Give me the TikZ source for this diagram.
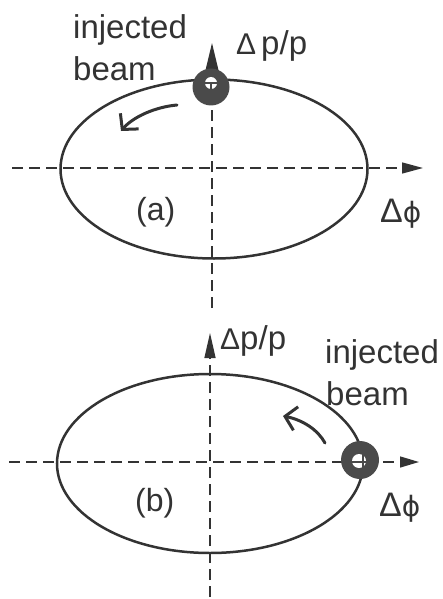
\documentclass[tikz,border=0pt]{standalone}
\usepackage{fontspec}
\setmainfont{Liberation Sans}
\newfontfamily\phifont{DejaVu Sans}
\usetikzlibrary{arrows.meta}
\definecolor{ink}{HTML}{333333}
\definecolor{ringc}{HTML}{4A4A4A}
\begin{document}
\begin{tikzpicture}[x=1pt,y=-1pt,
  axis/.style={ink, line width=1.4pt, dash pattern=on 11pt off 6pt},
  orbit/.style={ink, line width=2.5pt},
  motion/.style={ink, line width=3pt, line cap=round, -{Straight Barb[length=11pt,width=24pt]}},
  lbl/.style={ink, inner sep=0pt, anchor=base west, font=\fontsize{33}{40}\selectfont},
  panel/.style={ink, inner sep=0pt, anchor=base west, font=\fontsize{32}{38}\selectfont},
  ring/.style={fill=ringc},
  hole/.style={fill=white},
  cross/.style={ringc, line width=1.6pt}
]
\useasboundingbox (0,0) rectangle (443,599);

% ---------------- panel (a) ----------------
\coordinate (ha1) at (12,168);
\coordinate (ha2) at (423,168);
\coordinate (va1) at (212,308);
\coordinate (va2) at (212,43);
\draw[axis, -{Triangle[length=21pt,width=11pt]}] (ha1) -- (ha2);
\draw[axis, -{Triangle[length=30pt,width=14pt]}] (va1) -- (va2);
\draw[orbit] (214,169) ellipse [x radius=153.5pt, y radius=89.5pt];
% injected beam marker
\coordinate (ra) at (211,87);
\coordinate (ha) at (211,83);
\fill[ring] (ra) circle [radius=18.5pt];
\fill[hole] (ha) circle [radius=6pt];
\draw[cross] (205,83) -- (217,83);
\draw[cross] (211,83) -- (211,89);
% motion arrow
\coordinate (ma1) at (177,105);
\coordinate (ma2) at (121,131);
\draw[motion] (ma1) .. controls (155,107) and (133,117) .. (ma2);
% labels
\node[lbl] (inja) at (73,39) {injected};
\node[lbl] (beama) at (73,81) {beam};
\node[lbl] (dpa) at (236,55) {{\fontsize{30}{34}\selectfont Δ}\hspace{5pt}p/p};
\node[panel] (laba) at (136,220) {(a)};
\node[lbl] (dphia) at (380,222) {{\fontsize{34}{38}\selectfont Δ}{\phifont\fontsize{28}{32}\selectfont ϕ}};

% ---------------- panel (b) ----------------
\coordinate (hb1) at (9,462);
\coordinate (hb2) at (419,462);
\coordinate (vb1) at (210,597);
\coordinate (vb2) at (210,333);
\draw[axis, -{Triangle[length=19pt,width=11pt]}] (hb1) -- (hb2);
\draw[axis, -{Triangle[length=25pt,width=11pt]}] (vb1) -- (vb2);
\draw[orbit] (210,463.5) ellipse [x radius=153pt, y radius=89.5pt];
% injected beam marker
\coordinate (rb) at (360,460);
\coordinate (hbh) at (359,461);
\fill[ring] (rb) circle [radius=19pt];
\fill[hole] (hbh) circle [radius=7pt];
\draw[cross] (352,462) -- (366,462);
\draw[cross] (363,454) -- (363,469);
% motion arrow
\coordinate (mb1) at (325,443);
\coordinate (mb2) at (283,416);
\draw[motion] (mb1) .. controls (318,430) and (303,420) .. (mb2);
% labels
\node[lbl] (injb) at (325,363) {injected};
\node[lbl] (beamb) at (326,405) {beam};
\node[lbl] (dpb) at (220,349) {{\fontsize{30}{34}\selectfont Δ}p/p};
\node[panel] (labb) at (135,511) {(b)};
\node[lbl] (dphib) at (379,516) {{\fontsize{34}{38}\selectfont Δ}{\phifont\fontsize{28}{32}\selectfont ϕ}};
\end{tikzpicture}
\end{document}
